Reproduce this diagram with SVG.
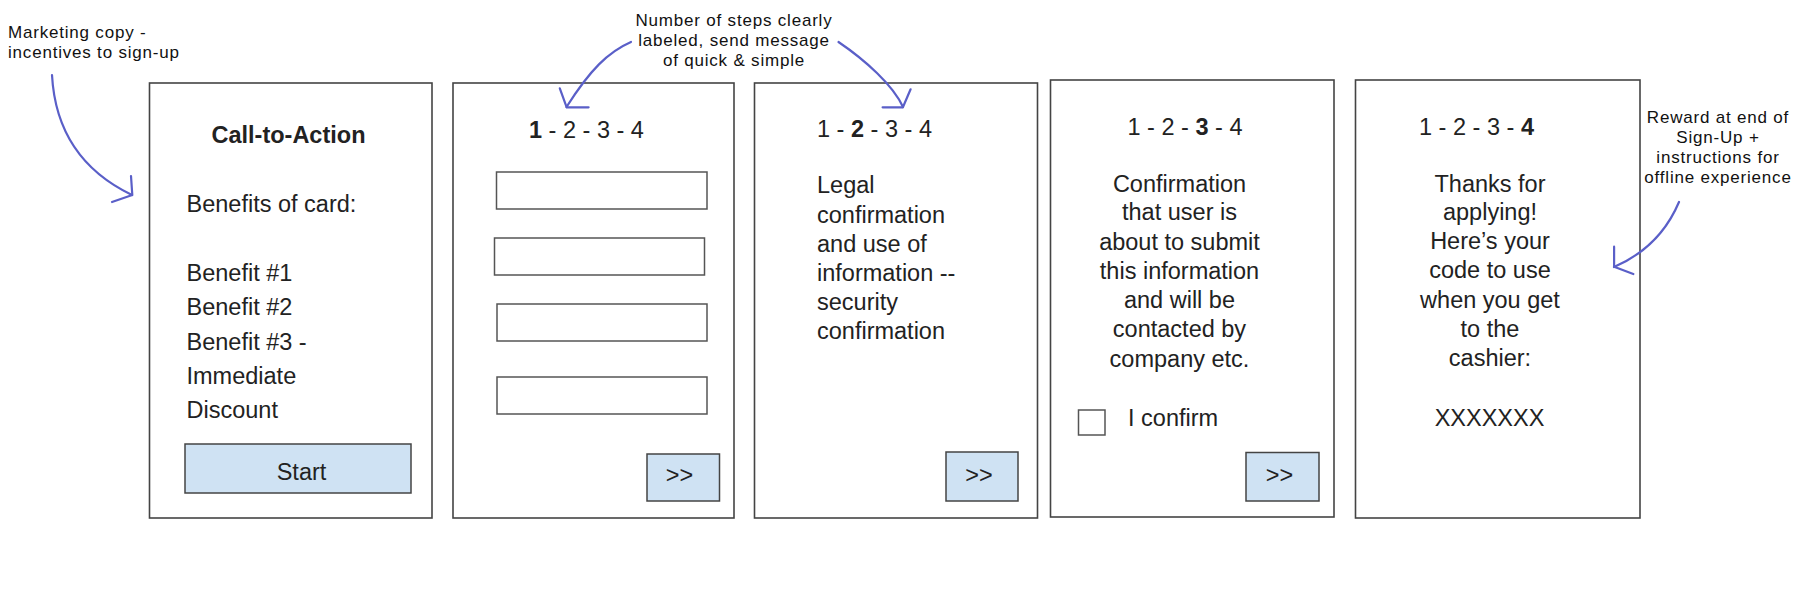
<svg xmlns="http://www.w3.org/2000/svg" width="1800" height="600" viewBox="0 0 1800 600">
  <style>
    .frame { fill: #ffffff; stroke: #444444; stroke-width: 1.6; }
    .field { fill: #ffffff; stroke: #555555; stroke-width: 1.5; }
    .btn { fill: #cfe2f3; stroke: #444444; stroke-width: 1.5; }
    .t { font-family: "Liberation Sans", Arial, sans-serif; font-size: 23.5px; fill: #222222; }
    .c { text-anchor: middle; }
    .b { font-weight: bold; }
    .note { font-family: "Liberation Sans", Arial, sans-serif; font-size: 17px; letter-spacing: 0.8px; fill: #111111; }
    .arrow { fill: none; stroke: #5a5fc8; stroke-width: 2.2; stroke-linecap: round; stroke-linejoin: round; }
  </style>
  <rect width="1800" height="600" fill="#ffffff"/>

  <g id="note-marketing">
    <text class="note" x="8" y="38">Marketing copy -</text>
    <text class="note" x="8" y="58">incentives to sign-up</text>
  </g>
  <g id="note-steps">
    <text class="note c" x="734" y="26">Number of steps clearly</text>
    <text class="note c" x="734" y="46">labeled, send message</text>
    <text class="note c" x="734" y="66">of quick &amp; simple</text>
  </g>
  <g id="note-reward">
    <text class="note c" x="1718" y="123">Reward at end of</text>
    <text class="note c" x="1718" y="143">Sign-Up +</text>
    <text class="note c" x="1718" y="163">instructions for</text>
    <text class="note c" x="1718" y="183">offline experience</text>
  </g>

  <g id="screen-1">
    <rect class="frame" x="149.5" y="83" width="282.5" height="435"/>
    <text class="t b c" x="288.5" y="143">Call-to-Action</text>
    <text class="t" x="186.5" y="212">Benefits of card:</text>
    <text class="t" x="186.5" y="281">Benefit #1</text>
    <text class="t" x="186.5" y="315">Benefit #2</text>
    <text class="t" x="186.5" y="350">Benefit #3 -</text>
    <text class="t" x="186.5" y="384">Immediate</text>
    <text class="t" x="186.5" y="418">Discount</text>
    <rect class="btn" x="185" y="444" width="226" height="49"/>
    <text class="t c" x="301.5" y="480">Start</text>
  </g>

  <g id="screen-2">
    <rect class="frame" x="453" y="83" width="281" height="435"/>
    <text class="t" x="529" y="137.5"><tspan class="b">1</tspan> - 2 - 3 - 4</text>
    <rect class="field" x="496.5" y="172" width="210.5" height="37"/>
    <rect class="field" x="494.5" y="238" width="210" height="37"/>
    <rect class="field" x="497" y="304" width="210" height="37"/>
    <rect class="field" x="497" y="377" width="210" height="37"/>
    <rect class="btn" x="647" y="454" width="72.5" height="47"/>
    <text class="t c" x="679.5" y="483">&gt;&gt;</text>
  </g>

  <g id="screen-3">
    <rect class="frame" x="754.5" y="83" width="283" height="435"/>
    <text class="t" x="817" y="137"><tspan>1 - </tspan><tspan class="b">2</tspan><tspan> - 3 - 4</tspan></text>
    <text class="t" x="817" y="193">Legal</text>
    <text class="t" x="817" y="223">confirmation</text>
    <text class="t" x="817" y="252">and use of</text>
    <text class="t" x="817" y="281">information --</text>
    <text class="t" x="817" y="310">security</text>
    <text class="t" x="817" y="339">confirmation</text>
    <rect class="btn" x="946" y="452" width="72" height="49"/>
    <text class="t c" x="979" y="483">&gt;&gt;</text>
  </g>

  <g id="screen-4">
    <rect class="frame" x="1050.5" y="80" width="283.5" height="437"/>
    <text class="t c" x="1185" y="135"><tspan>1 - 2 - </tspan><tspan class="b">3</tspan><tspan> - 4</tspan></text>
    <text class="t c" x="1179.5" y="192">Confirmation</text>
    <text class="t c" x="1179.5" y="220">that user is</text>
    <text class="t c" x="1179.5" y="250">about to submit</text>
    <text class="t c" x="1179.5" y="279">this information</text>
    <text class="t c" x="1179.5" y="308">and will be</text>
    <text class="t c" x="1179.5" y="337">contacted by</text>
    <text class="t c" x="1179.5" y="367">company etc.</text>
    <rect class="field" x="1078.5" y="410" width="26.5" height="25"/>
    <text class="t" x="1128" y="426">I confirm</text>
    <rect class="btn" x="1246" y="452.5" width="73" height="48.5"/>
    <text class="t c" x="1279.5" y="483">&gt;&gt;</text>
  </g>

  <g id="screen-5">
    <rect class="frame" x="1355.5" y="80" width="284.5" height="438"/>
    <text class="t c" x="1476.5" y="135"><tspan>1 - 2 - 3 - </tspan><tspan class="b">4</tspan></text>
    <text class="t c" x="1490" y="192">Thanks for</text>
    <text class="t c" x="1490" y="220">applying!</text>
    <text class="t c" x="1490" y="249">Here’s your</text>
    <text class="t c" x="1490" y="278">code to use</text>
    <text class="t c" x="1490" y="308">when you get</text>
    <text class="t c" x="1490" y="337">to the</text>
    <text class="t c" x="1490" y="366">cashier:</text>
    <text class="t c" x="1489.5" y="426">XXXXXXX</text>
  </g>

  <g id="connectors">
    <path class="arrow" d="M 52 75 C 55 130, 80 170, 132 195"/>
    <polyline class="arrow" points="131,176 132.3,195 112,202"/>
    <path class="arrow" d="M 631 42 C 608 52, 590 70, 566.5 107"/>
    <polyline class="arrow" points="559.8,88.3 566.7,107.3 588.6,107.3"/>
    <path class="arrow" d="M 838.5 42 C 865 60, 893 85, 903 107"/>
    <polyline class="arrow" points="882.6,107.3 902.9,107.3 910.6,89.3"/>
    <path class="arrow" d="M 1679 202 C 1665 235, 1642 255, 1614 267"/>
    <polyline class="arrow" points="1614.1,246.7 1614.1,266.7 1633.3,274"/>
  </g>
</svg>
